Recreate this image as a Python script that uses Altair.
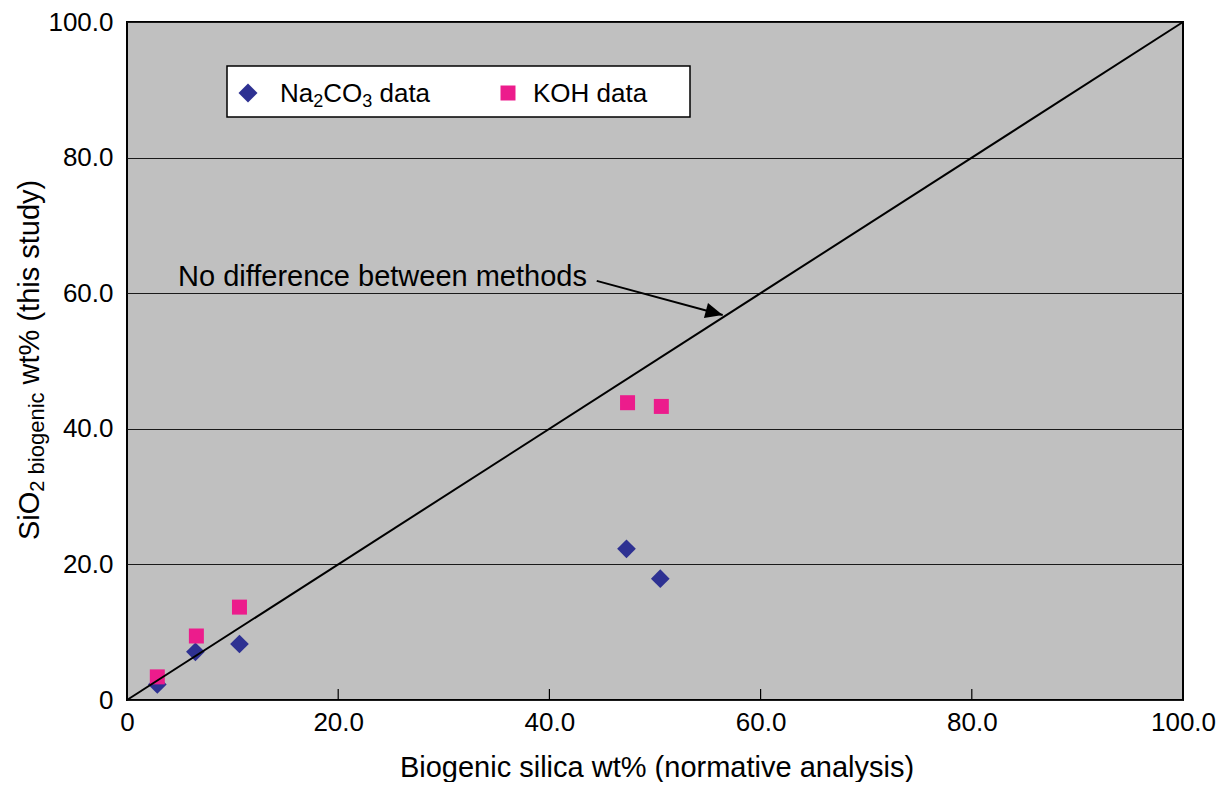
import altair as alt
import pandas as pd

# ---- data ----
na_x = [2.87, 6.48, 10.65, 47.3, 50.5]
na_y = [2.3, 7.1, 8.26, 22.3, 17.9]
koh_x = [2.87, 6.57, 10.65, 47.4, 50.6]
koh_y = [3.41, 9.44, 13.7, 43.85, 43.3]
line_x = [0, 100]
line_y = [0, 100]
tick_vals = [0, 20, 40, 60, 80, 100]
arrow_start = [44.48, 61.82]
arrow_tip = [56.41, 56.78]
annotation = "No difference between methods"

FONT = "Liberation Sans"
W, H = 1056, 678

na_df = pd.DataFrame({"x": na_x, "y": na_y})
koh_df = pd.DataFrame({"x": koh_x, "y": koh_y})
line_df = pd.DataFrame({"x": line_x, "y": line_y})
tick_df = pd.DataFrame({"x": tick_vals[1:-1]})
arrow_df = pd.DataFrame({"x": [arrow_start[0]], "y": [arrow_start[1]],
                         "x2": [arrow_tip[0]], "y2": [arrow_tip[1]]})
one = pd.DataFrame({"a": [0]})

xs = alt.Scale(domain=[0, 100], nice=False, zero=False)
ys = alt.Scale(domain=[0, 100], nice=False, zero=False)
lab = "datum.value == 0 ? '0' : format(datum.value, '.1f')"

xaxis = alt.Axis(values=tick_vals, title=None, grid=False, ticks=False, domain=False,
                 labelExpr=lab, labelFlush=False, labelOverlap=False, labelBound=False,
                 labelPadding=9, labelFont=FONT, labelFontSize=26, labelColor="black")
yaxis = alt.Axis(values=tick_vals, title=None, grid=True, gridColor="#1a1a1a", gridWidth=1.2,
                 ticks=False, domain=False,
                 labelExpr=lab, labelFlush=False, labelOverlap=False, labelBound=False,
                 labelPadding=14, labelFont=FONT, labelFontSize=26, labelColor="black")

na = alt.Chart(na_df).mark_point(shape="diamond", filled=True, size=350, opacity=1,
                                 color="#2E3192").encode(
    x=alt.X("x:Q", scale=xs, axis=xaxis), y=alt.Y("y:Q", scale=ys, axis=yaxis))
koh = alt.Chart(koh_df).mark_point(shape="square", filled=True, size=225, opacity=1,
                                   color="#EC1C8C").encode(x="x:Q", y="y:Q")
diag = alt.Chart(line_df).mark_line(color="black", strokeWidth=2).encode(x="x:Q", y="y:Q")

ticks = alt.Chart(tick_df).mark_rule(color="black", strokeWidth=1.2).encode(
    x="x:Q", y=alt.value(H), y2=alt.value(H - 11))

arrow_line = alt.Chart(arrow_df).mark_rule(color="black", strokeWidth=2).encode(
    x="x:Q", y="y:Q", x2="x2:Q", y2="y2:Q")
arrow_head = alt.Chart(arrow_df).mark_point(
    shape="M0,0L-1,-0.45L-1,0.45Z", filled=True, size=1200, opacity=1, color="black",
    angle=15).encode(x="x2:Q", y="y2:Q")

annot = alt.Chart(one).mark_text(text=annotation, font=FONT, fontSize=29, align="left",
                                 baseline="alphabetic", color="black").encode(
    x=alt.value(51), y=alt.value(264))

# legend (drawn by hand to keep subscripts)
leg_box = alt.Chart(one).mark_rect(fill="white", stroke="black", strokeWidth=1.5).encode(
    x=alt.value(100), x2=alt.value(563), y=alt.value(44), y2=alt.value(95))
leg_d = alt.Chart(one).mark_point(shape="diamond", filled=True, size=360, opacity=1,
                                  color="#2E3192").encode(x=alt.value(121), y=alt.value(71))
leg_s = alt.Chart(one).mark_point(shape="square", filled=True, size=225, opacity=1,
                                  color="#EC1C8C").encode(x=alt.value(381), y=alt.value(71))


def txt(t, x, y, size, angle=0):
    kw = dict(text=t, font=FONT, fontSize=size, align="left", baseline="alphabetic",
              color="black")
    if angle:
        kw["angle"] = angle
    return alt.Chart(one).mark_text(**kw).encode(x=alt.value(x), y=alt.value(y))


LS, SS = 26, 18
lx = 153
bl = 80
leg_texts = [
    txt("Na", lx, bl, LS),
    txt("2", lx + 1.278 * LS, bl + 5, SS),
    txt("CO", lx + 1.278 * LS + 0.556 * SS, bl, LS),
    txt("3", lx + 2.778 * LS + 0.556 * SS, bl + 5, SS),
    txt("data", lx + 2.778 * LS + 1.112 * SS + 0.278 * LS, bl, LS),
    txt("KOH data", 406, bl, LS),
]

# y title, rotated, composed for subscripts
TS, SS2, BS = 29, 20, 22
bx = -88
y0 = 518
p1 = y0
p2 = p1 - 1.667 * TS
p3 = p2 - 0.556 * SS2 - 0.278 * BS
p4 = p3 - 3.724 * BS - 0.278 * TS
parts_y = [
    txt("SiO", bx, p1, TS, 270),
    txt("2", bx + 5, p2, SS2, 270),
    txt("biogenic", bx + 5, p3, BS, 270),
    txt("wt% (this study)", bx, p4, TS, 270),
]

xtitle = alt.Chart(one).mark_text(text="Biogenic silica wt% (normative analysis)", font=FONT,
                                  fontSize=29, align="center", baseline="alphabetic",
                                  color="black").encode(x=alt.value(530), y=alt.value(755))

chart = alt.layer(
    na, koh, diag, ticks, arrow_line, arrow_head, annot, leg_box, leg_d, leg_s,
    *leg_texts, *parts_y, xtitle
).properties(
    width=W, height=H,
    padding={"left": 119, "top": 14, "right": 38, "bottom": 82},
    autosize=alt.AutoSizeParams(type="none"),
    background="white",
).configure_view(
    fill="#C0C0C0", stroke="black", strokeWidth=2
)

chart.save("out.html", embed_options={"renderer": "svg", "actions": False})
